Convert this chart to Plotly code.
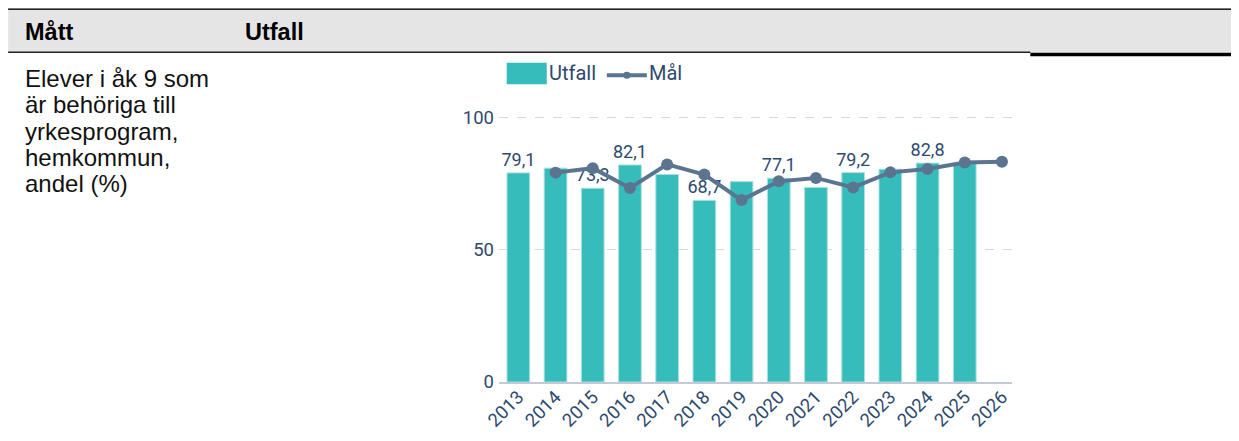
import plotly.graph_objects as go

# ---- data ----
years = ["2013", "2014", "2015", "2016", "2017", "2018", "2019",
         "2020", "2021", "2022", "2023", "2024", "2025", "2026"]
utfall = [79.1, 80.9, 73.3, 82.1, 78.5, 68.7, 75.8, 77.1, 73.6, 79.2, 80.5, 82.8, 82.8, None]
mal = [None, 79.2, 80.9, 73.4, 82.3, 78.5, 68.8, 75.9, 77.2, 73.6, 79.3, 80.6, 83.0, 83.3]
label_shown = [1, 0, 1, 1, 0, 1, 0, 1, 0, 1, 0, 1, 0, 0]
y_ticks = [0, 50, 100]
series_names = ["Utfall", "Mål"]
header_cols = ["Mått", "Utfall"]
measure_lines = ["Elever i åk 9 som", "är behöriga till", "yrkesprogram,", "hemkommun,", "andel (%)"]

# ---- style ----
WIN_W, WIN_H = 1239, 441
OFF = 8  # default page body margin
W, H = WIN_W - OFF, WIN_H - OFF
TEAL = "#37bcbc"
SLATE = "#5b7591"
NAVY = "#2d4a6e"
CHART_FONT = "Roboto"
TABLE_FONT = "Liberation Sans"

# plot area in window pixels
L, R = 499.3, 1011.7
B = 382.5
PX_PER_UNIT = 2.645
Y_MAX = 101
T = B - Y_MAX * PX_PER_UNIT


def xp(px):
    return (px - L) / (R - L)


def yp(py):
    return (B - py) / (B - T)


bar_text = [
    (f"{v:.1f}".replace(".", ",") if (v is not None and s) else "")
    for v, s in zip(utfall, label_shown)
]

fig = go.Figure()
fig.add_trace(go.Bar(
    x=years, y=utfall, name=series_names[0],
    marker=dict(color=TEAL, line=dict(color="#a9e0df", width=1)),
    text=bar_text, textposition="outside", constraintext="none",
    textfont=dict(family=CHART_FONT, size=18, color=NAVY),
    cliponaxis=False, showlegend=False,
))
fig.add_trace(go.Scatter(
    x=years, y=mal, name=series_names[1], mode="lines+markers",
    line=dict(color=SLATE, width=4),
    marker=dict(color=SLATE, size=12),
    cliponaxis=False, showlegend=False,
))

shapes = []
annotations = []
RIGHT_EDGE = WIN_W + 10

# header band
shapes.append(dict(type="rect", xref="paper", yref="paper",
                   x0=xp(9), x1=xp(RIGHT_EDGE), y0=yp(9.3), y1=yp(52.7),
                   fillcolor="#e5e5e5", line=dict(width=0), layer="below"))
shapes.append(dict(type="line", xref="paper", yref="paper",
                   x0=xp(9), x1=xp(RIGHT_EDGE), y0=yp(8.3), y1=yp(8.3),
                   line=dict(color="#9a9a9a", width=1)))
shapes.append(dict(type="line", xref="paper", yref="paper",
                   x0=xp(9), x1=xp(RIGHT_EDGE), y0=yp(9.5), y1=yp(9.5),
                   line=dict(color="#222222", width=1.5)))
shapes.append(dict(type="line", xref="paper", yref="paper",
                   x0=xp(9), x1=xp(1030), y0=yp(52.6), y1=yp(52.6),
                   line=dict(color="#222222", width=1.5)))
shapes.append(dict(type="line", xref="paper", yref="paper",
                   x0=xp(1030), x1=xp(RIGHT_EDGE), y0=yp(54.8), y1=yp(54.8),
                   line=dict(color="#000000", width=3.5)))

for txt, px in zip(header_cols, [25, 245]):
    annotations.append(dict(xref="paper", yref="paper", x=xp(px - 1), y=yp(32),
                            xanchor="left", yanchor="middle", showarrow=False,
                            text=f"<b>{txt}</b>",
                            font=dict(family=TABLE_FONT, size=23.5, color="#000000")))

for i, line in enumerate(measure_lines):
    annotations.append(dict(xref="paper", yref="paper", x=xp(24), y=yp(79 + 26.25 * i),
                            xanchor="left", yanchor="middle", align="left", showarrow=False,
                            text=line,
                            font=dict(family=TABLE_FONT, size=24, color="#111111")))

# custom legend
shapes.append(dict(type="rect", xref="paper", yref="paper",
                   x0=xp(507), x1=xp(547), y0=yp(63), y1=yp(84.5),
                   fillcolor=TEAL, line=dict(width=0)))
shapes.append(dict(type="line", xref="paper", yref="paper",
                   x0=xp(607), x1=xp(647), y0=yp(75.5), y1=yp(75.5),
                   line=dict(color=SLATE, width=4)))
shapes.append(dict(type="circle", xref="paper", yref="paper",
                   x0=xp(623.5), x1=xp(630.5), y0=yp(72), y1=yp(79),
                   fillcolor=SLATE, line=dict(width=0)))
annotations.append(dict(xref="paper", yref="paper", x=xp(547), y=yp(73.5),
                        xanchor="left", yanchor="middle", showarrow=False,
                        text=series_names[0],
                        font=dict(family=CHART_FONT, size=20, color=NAVY)))
annotations.append(dict(xref="paper", yref="paper", x=xp(647), y=yp(73.5),
                        xanchor="left", yanchor="middle", showarrow=False,
                        text=series_names[1],
                        font=dict(family=CHART_FONT, size=20, color=NAVY)))

fig.update_layout(
    width=W, height=H, autosize=False,
    margin=dict(l=L - OFF, r=W - (R - OFF), t=T - OFF, b=H - (B - OFF), pad=0,
                autoexpand=False),
    paper_bgcolor="white", plot_bgcolor="white",
    bargap=0.39,
    showlegend=False,
    shapes=shapes, annotations=annotations,
    xaxis=dict(type="category", range=[-0.52, 13.27], automargin=False,
               showline=True, linecolor="#c3cad5", linewidth=2,
               showgrid=False, ticks="", tickangle=-45, ticklabelstandoff=-5,
               tickfont=dict(family=CHART_FONT, size=18.5, color=NAVY)),
    yaxis=dict(range=[0, Y_MAX], tickvals=y_ticks, automargin=False,
               showline=False, zeroline=False,
               showgrid=True, gridcolor="#d3d9e2", griddash="dash", gridwidth=1,
               ticks="", ticklabelstandoff=4,
               tickfont=dict(family=CHART_FONT, size=18.5, color=NAVY)),
)

fig.write_html("out.html")
